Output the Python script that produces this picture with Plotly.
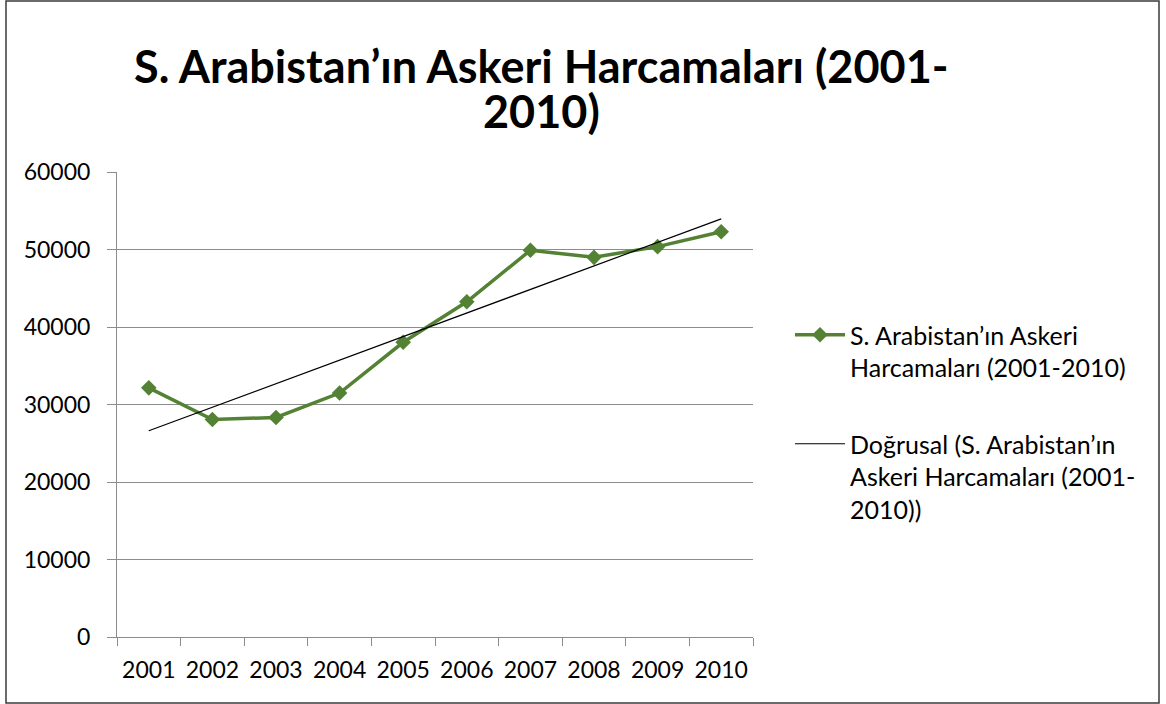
import numpy as np
import plotly.graph_objects as go

years = ["2001", "2002", "2003", "2004", "2005", "2006", "2007", "2008", "2009", "2010"]
spending = [32150, 28070, 28330, 31480, 38030, 43250, 49900, 48990, 50370, 52300]

series_name = "S. Arabistan’ın Askeri<br>Harcamaları (2001-2010)"
trend_name = "Doğrusal (S. Arabistan’ın<br>Askeri Harcamaları (2001-<br>2010))"
title_lines = ["S. Arabistan’ın Askeri Harcamaları (2001-", "2010)"]

# linear trendline (least squares), as in the original spreadsheet
idx = np.arange(1, len(years) + 1)
slope, intercept = np.polyfit(idx, spending, 1)
trend = slope * idx + intercept

FONT = "Lato"
GREEN = "#548235"
GRID = "#8c8c8c"

fig = go.Figure()
fig.add_trace(go.Scatter(
    x=years, y=spending, name=series_name, mode="lines+markers",
    line=dict(color=GREEN, width=3.5),
    marker=dict(symbol="diamond", size=12, color=GREEN),
    legendgroup="a",
))
fig.add_trace(go.Scatter(
    x=years, y=trend.tolist(), name=trend_name, mode="lines",
    line=dict(color="black", width=1.2),
    legendgroup="b",
))

L, R, T, B = 117, 413, 172, 67
W, H = 1166, 704
pw, ph = W - L - R, H - T - B

def px_x(p):
    return (p - L) / pw

def px_y(p):
    return (H - B - p) / ph

annotations = [
    dict(text=title_lines[0], x=px_x(541), y=px_y(66), xref="paper", yref="paper",
         xanchor="center", yanchor="middle", showarrow=False,
         font=dict(family=FONT, size=45, color="black", weight="bold")),
    dict(text=title_lines[1], x=px_x(541), y=px_y(111), xref="paper", yref="paper",
         xanchor="center", yanchor="middle", showarrow=False,
         font=dict(family=FONT, size=45, color="black", weight="bold")),
]

fig.update_layout(
    width=W, height=H, autosize=False,
    margin=dict(l=L, r=R, t=T, b=B),
    paper_bgcolor="white", plot_bgcolor="white",
    font=dict(family=FONT, size=23, color="black"),
    showlegend=True,
    legend=dict(
        x=px_x(790), xanchor="left", y=px_y(312), yanchor="top",
        font=dict(family=FONT, size=25, color="black"),
        valign="top", tracegroupgap=41, itemwidth=50,
        bgcolor="rgba(0,0,0,0)",
    ),
    xaxis=dict(
        type="category", range=[-0.5, len(years) - 0.5],
        tickson="boundaries", ticks="outside", ticklen=8,
        tickcolor=GRID, showline=True, linecolor=GRID, linewidth=1,
        showgrid=False, tickfont=dict(size=23), ticklabelstandoff=12,
        tickangle=0, fixedrange=True,
    ),
    yaxis=dict(
        range=[0, 60000], dtick=10000, tickformat="d", ticks="outside", ticklen=9,
        tickcolor=GRID, showline=True, linecolor=GRID, linewidth=1,
        showgrid=True, gridcolor=GRID, gridwidth=1, zeroline=False,
        tickfont=dict(size=23), ticklabelstandoff=12, fixedrange=True,
    ),
    annotations=annotations,
    shapes=[dict(
        type="rect", xref="paper", yref="paper",
        x0=px_x(6), x1=px_x(1159), y0=px_y(703), y1=px_y(1),
        line=dict(color="#3a3a3a", width=1.5), fillcolor="rgba(0,0,0,0)",
        layer="above",
    )],
)

fig.write_html(
    "out.html",
    config={"responsive": False, "displayModeBar": False},
    post_script=(
        "document.documentElement.style.overflow='hidden';"
        "document.body.style.overflow='hidden';"
        "document.body.style.margin='0';"
        "document.body.style.padding='0';"
    ),
)
